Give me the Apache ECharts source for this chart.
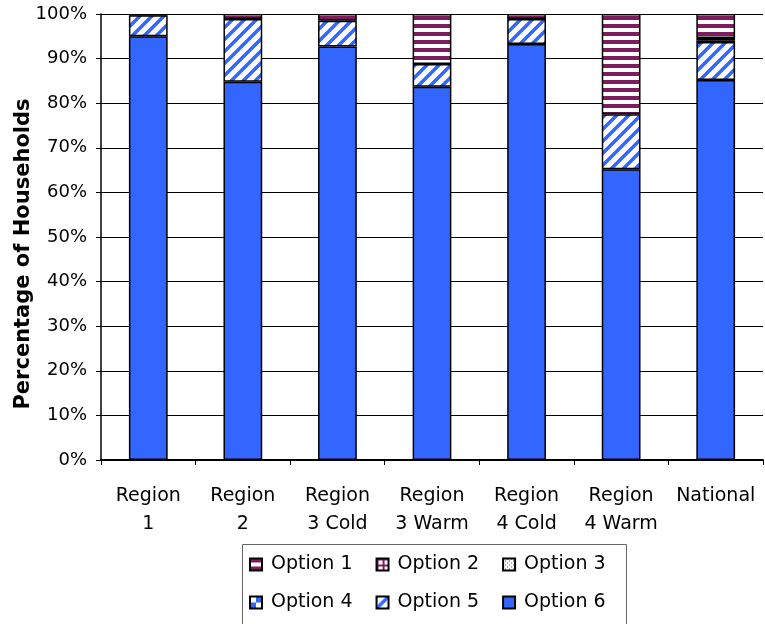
<!DOCTYPE html>
<html>
<head>
<meta charset="utf-8">
<script src="https://cdn.jsdelivr.net/npm/echarts@6/dist/echarts.min.js"></script>
<style>
    html, body { margin: 0; padding: 0; background: #fff; }
    #chart { width: 765px; height: 624px; }
</style>
</head>
<body>
<div id="chart"></div>
<script>
    var categories = ['Region\n1', 'Region\n2', 'Region\n3 Cold', 'Region\n3 Warm', 'Region\n4 Cold', 'Region\n4 Warm', 'National'];
    var option6 = [95.0, 84.8, 92.7, 83.7, 93.3, 65.2, 85.2];
    var option5 = [4.7, 14.1, 5.8, 5.1, 5.6, 12.3, 8.5];
    var option4 = [0, 0, 0, 0, 0, 0, 0];
    var option3 = [0, 0, 0, 0, 0, 0, 0.4];
    var option2 = [0, 0, 0, 0, 0, 0, 0.5];
    var option1 = [0.3, 1.1, 1.5, 11.2, 1.1, 22.5, 5.4];
    var yTicks = ['0%', '10%', '20%', '30%', '40%', '50%', '60%', '70%', '80%', '90%', '100%'];

    var BLUE = '#3366ff';
    var PLUM = '#7d1d5c';

    // small canvas tiles used as fill patterns
    var makeTile = function (w, h, draw) {
        var c = document.createElement('canvas');
        c.width = w;
        c.height = h;
        var ctx = c.getContext('2d');
        ctx.fillStyle = '#fff';
        ctx.fillRect(0, 0, w, h);
        draw(ctx);
        return { image: c, repeat: 'repeat' };
    };

    var hStripes = makeTile(8, 8, function (ctx) {
        ctx.fillStyle = PLUM;
        ctx.fillRect(0, 0, 8, 4);
    });
    var gridTile = makeTile(6, 6, function (ctx) {
        ctx.fillStyle = PLUM;
        ctx.fillRect(0, 0, 6, 2);
        ctx.fillRect(0, 0, 2, 6);
    });
    var dotTile = makeTile(4, 4, function (ctx) {
        ctx.fillStyle = PLUM;
        ctx.fillRect(0, 0, 1, 1);
        ctx.fillRect(2, 2, 1, 1);
    });
    var checkTile = makeTile(12, 12, function (ctx) {
        ctx.fillStyle = BLUE;
        ctx.fillRect(0, 6, 6, 6);
        ctx.fillRect(6, 0, 6, 6);
    });
    var diagTile = makeTile(12, 12, function (ctx) {
        ctx.strokeStyle = BLUE;
        ctx.lineWidth = 3.5;
        ctx.beginPath();
        ctx.moveTo(-3, 15); ctx.lineTo(15, -3);
        ctx.moveTo(-9, 9); ctx.lineTo(9, -9);
        ctx.moveTo(3, 21); ctx.lineTo(21, 3);
        ctx.stroke();
    });

    var toSeries = function (arr) {
        return arr.map(function (v) { return v > 0 ? v : '-'; });
    };

    var barSeries = function (name, data, fill) {
        return {
            name: name,
            type: 'bar',
            stack: 'total',
            barWidth: '41%',
            data: toSeries(data),
            itemStyle: {
                color: fill,
                borderColor: '#000',
                borderWidth: 1.5
            },
            emphasis: { disabled: true }
        };
    };

    var legendText = { color: '#000', fontSize: 19, fontFamily: 'DejaVu Sans', padding: [0, 0, 0, 4] };

    var chart = echarts.init(document.getElementById('chart'), null, { renderer: 'canvas' });
    chart.setOption({
        backgroundColor: '#fff',
        animation: false,
        grid: { left: 101, right: 2, top: 14, bottom: 164, outerBoundsMode: 'none', containLabel: false },
        legend: [{
            data: ['Option 1', 'Option 2', 'Option 3'],
            left: 249, top: 555, padding: 0,
            icon: 'rect', itemWidth: 12, itemHeight: 12,
            itemGap: 23, selectedMode: false,
            textStyle: legendText
        }, {
            data: ['Option 4', 'Option 5', 'Option 6'],
            left: 249, top: 593, padding: 0,
            icon: 'rect', itemWidth: 12, itemHeight: 12,
            itemGap: 23, selectedMode: false,
            textStyle: legendText
        }],
        graphic: [{
            type: 'rect',
            left: 240, top: 542,
            shape: { width: 384, height: 100 },
            style: { fill: 'none', stroke: '#666', lineWidth: 1 },
            silent: true
        }],
        xAxis: {
            type: 'category',
            data: categories,
            axisLine: { lineStyle: { color: '#000', width: 2 } },
            axisTick: { show: true, length: 5, lineStyle: { color: '#000', width: 1 } },
            axisLabel: {
                color: '#000', fontSize: 19, fontFamily: 'DejaVu Sans',
                lineHeight: 28, margin: 22, interval: 0
            }
        },
        yAxis: {
            type: 'value',
            min: 0, max: 100, interval: 10,
            name: 'Percentage of Households',
            nameLocation: 'middle',
            nameGap: 67,
            nameMoveOverlap: false,
            nameTextStyle: {
                color: '#000', fontSize: 21, fontWeight: 'bold', fontFamily: 'DejaVu Sans',
                padding: [0, 34, 0, 0]
            },
            axisLine: { show: true, lineStyle: { color: '#000', width: 1.5 } },
            axisTick: { show: true, length: 5, lineStyle: { color: '#000' } },
            axisLabel: {
                color: '#000', fontSize: 18, fontFamily: 'DejaVu Sans', margin: 14,
                formatter: function (v) { return yTicks[Math.round(v / 10)]; }
            },
            splitLine: { lineStyle: { color: '#000', width: 1 } }
        },
        series: [
            barSeries('Option 6', option6, BLUE),
            barSeries('Option 5', option5, diagTile),
            barSeries('Option 4', option4, checkTile),
            barSeries('Option 3', option3, dotTile),
            barSeries('Option 2', option2, gridTile),
            barSeries('Option 1', option1, hStripes)
        ]
    });
</script>
</body>
</html>
